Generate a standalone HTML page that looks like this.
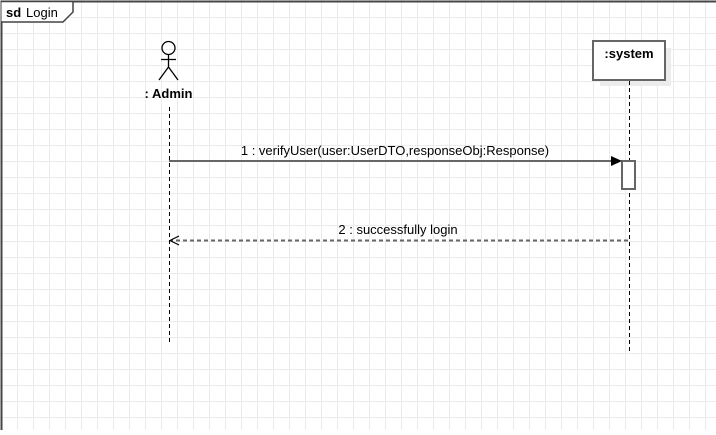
<!DOCTYPE html>
<html><head><style>
html,body{margin:0;padding:0;background:#fff;}
body{width:716px;height:430px;overflow:hidden;}
svg text{font-family:"Liberation Sans",Arial,sans-serif;font-size:13px;fill:#000;}
</style></head><body>
<svg width="716" height="430" xmlns="http://www.w3.org/2000/svg">
<defs>
<pattern id="g" x="1" y="1" width="16" height="16" patternUnits="userSpaceOnUse">
<path d="M0.5 0V16M0 0.5H16" stroke="#ebebeb" stroke-width="1" fill="none"/>
</pattern>
</defs>
<rect width="716" height="430" fill="url(#g)"/>
<path d="M1.5 430V1.5H716" stroke="#444" stroke-width="2" fill="none"/>
<path d="M1.5 1.5H73V12L63 22H1.5" stroke="#444" stroke-width="1.5" fill="#fff"/>
<text x="6" y="17" font-weight="bold">sd</text>
<text x="26" y="17">Login</text>
<!-- actor -->
<g stroke="#000" stroke-width="1.3" fill="none">
<circle cx="168.5" cy="48" r="6.5"/>
<path d="M168.5 54.5V67M161 59.5H176M168.5 67L159 80M168.5 67L178 80"/>
</g>
<text x="168.5" y="98" text-anchor="middle" font-weight="bold">: Admin</text>
<path d="M169.5 107V343" stroke="#000" stroke-dasharray="4,3"/>
<!-- system -->
<rect x="600" y="48" width="71" height="38" fill="#ececec"/>
<rect x="593" y="41" width="72" height="39" fill="#fff" stroke="#666" stroke-width="2"/>
<text x="629" y="58" text-anchor="middle" font-weight="bold">:system</text>
<path d="M629.5 81V353" stroke="#000" stroke-dasharray="4,3"/>
<rect x="622" y="161" width="13" height="28" fill="#fff" stroke="#666" stroke-width="2"/>
<!-- msg1 -->
<path d="M169 161H612" stroke="#666" stroke-width="2"/>
<path d="M611 156L622 161L611 166Z" fill="#000"/>
<text x="395" y="155" text-anchor="middle">1 : verifyUser(user:UserDTO,responseObj:Response)</text>
<!-- msg2 -->
<path d="M628 240.5H171" stroke="#666" stroke-width="2" stroke-dasharray="4,3"/>
<path d="M179 236L170 240.5L179 245" stroke="#000" stroke-width="1.2" fill="none"/>
<text x="398" y="234" text-anchor="middle">2 : successfully login</text>
</svg>
</body></html>
